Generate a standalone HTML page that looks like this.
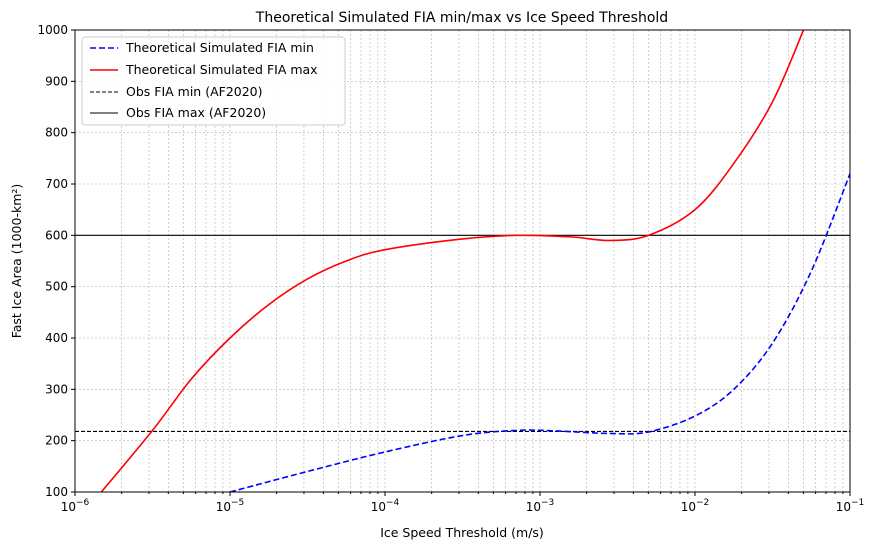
<!DOCTYPE html>
<html><head><meta charset="utf-8"><style>
body{margin:0;background:#fff;font-family:"Liberation Sans","DejaVu Sans",sans-serif}
</style></head><body>
<svg id="chart" width="876" height="550" xmlns="http://www.w3.org/2000/svg" font-family="DejaVu Sans, Liberation Sans, sans-serif">
<text x="462" y="22" font-size="14" text-anchor="middle">Theoretical Simulated FIA min/max vs Ice Speed Threshold</text>
<g id="grid"></g>
<g id="series"></g>
<rect x="75" y="30" width="775" height="462" fill="none" stroke="#000" stroke-width="1"/>
<g id="axes" font-size="12"></g>
<text x="462" y="537" font-size="12.5" text-anchor="middle">Ice Speed Threshold (m/s)</text>
<text transform="translate(21,261) rotate(-90)" font-size="12.5" text-anchor="middle">Fast Ice Area (1000-km²)</text>
<g>
<rect x="82" y="37" width="263" height="88" fill="#fff" fill-opacity="0.85" stroke="#ccc" rx="3"/>
<line x1="90" y1="48" x2="118" y2="48" stroke="#00f" stroke-width="1.6" stroke-dasharray="6,3"/>
<text x="126" y="52" font-size="12.5">Theoretical Simulated FIA min</text>
<line x1="90" y1="70" x2="118" y2="70" stroke="red" stroke-width="1.6"/>
<text x="126" y="74" font-size="12.5">Theoretical Simulated FIA max</text>
<line x1="90" y1="92" x2="118" y2="92" stroke="#000" stroke-width="1.1" stroke-dasharray="4,2"/>
<text x="126" y="96" font-size="12.5">Obs FIA min (AF2020)</text>
<line x1="90" y1="113" x2="118" y2="113" stroke="#000" stroke-width="1.1"/>
<text x="126" y="117" font-size="12.5">Obs FIA max (AF2020)</text>
</g>
</svg>
<script>
const maxLogX=[-5.83,-5.5,-5.25,-5,-4.75,-4.5,-4.25,-4,-3.5,-3.15,-2.8,-2.55,-2.3,-2,-1.75,-1.5,-1.3];
const maxVals=[100,220,320,400,465,515,550,572,593,600,597,590,600,650,740,860,1000];
const minLogX=[-5,-4.5,-4,-3.5,-3.15,-2.9,-2.55,-2.3,-2,-1.75,-1.5,-1.25,-1];
const minVals=[100,140,178,210,220,219,214,217,248,300,390,530,720];
const obsMin=218, obsMax=600;
const yTicks=[100,200,300,400,500,600,700,800,900,1000];
const xDecades=[-6,-5,-4,-3,-2,-1];
const NS="http://www.w3.org/2000/svg";
const X=l=>75+(l+6)*155, Y=v=>492-(v-100)*462/900;
function mk(p,t,a){const e=document.createElementNS(NS,t);for(const k in a)e.setAttribute(k,a[k]);p.appendChild(e);return e;}
const grid=document.getElementById('grid'),axes=document.getElementById('axes'),ser=document.getElementById('series');
yTicks.forEach(v=>{
 const g=mk(grid,'line',{x1:75,x2:850,y1:Y(v),y2:Y(v),stroke:'#b0b0b0','stroke-width':0.6,'stroke-dasharray':'2,2'});
 
 mk(axes,'line',{x1:71,x2:75,y1:Y(v),y2:Y(v),stroke:'#000'});
 const t=mk(axes,'text',{x:68,y:Y(v)+4,'text-anchor':'end'});t.textContent=v;
 
});
xDecades.forEach(d=>{
 for(let m=1;m<10;m++){const l=d+Math.log10(m);if(l>-1+1e-9&&m>1)continue;
  const g=mk(grid,'line',{x1:X(l),x2:X(l),y1:30,y2:492,stroke:'#b0b0b0','stroke-width':0.6,'stroke-dasharray':'2,2'});
  
  mk(axes,'line',{x1:X(l),x2:X(l),y1:492,y2:m==1?496:494,stroke:'#000'});}
 const t=mk(axes,'text',{x:X(d),y:511,'text-anchor':'middle'});
 t.innerHTML='10<tspan dy="-6" font-size="9">'+(d==-1?'−1':'−'+(-d))+'</tspan>';
 
});
function smooth(xs,ys){let d='';const pts=xs.map((x,i)=>[X(x),Y(ys[i])]);
 d='M'+pts[0];for(let i=0;i<pts.length-1;i++){const p0=pts[i-1]||pts[i],p1=pts[i],p2=pts[i+1],p3=pts[i+2]||p2;
 const c1=[p1[0]+(p2[0]-p0[0])/6,p1[1]+(p2[1]-p0[1])/6],c2=[p2[0]-(p3[0]-p1[0])/6,p2[1]-(p3[1]-p1[1])/6];
 d+='C'+c1+' '+c2+' '+p2;}return d;}
const cp=mk(document.getElementById('chart'),'clipPath',{id:'clip'});mk(cp,'rect',{x:75,y:30,width:775,height:462});
ser.setAttribute('clip-path','url(#clip)');
let e=mk(ser,'line',{x1:75,x2:850,y1:Y(obsMin),y2:Y(obsMin),stroke:'#000','stroke-width':1.1,'stroke-dasharray':'4,2'});

e=mk(ser,'line',{x1:75,x2:850,y1:Y(obsMax),y2:Y(obsMax),stroke:'#000','stroke-width':1.1});

e=mk(ser,'path',{d:smooth(minLogX,minVals),fill:'none',stroke:'#00f','stroke-width':1.6,'stroke-dasharray':'6,3'});

e=mk(ser,'path',{d:smooth(maxLogX,maxVals),fill:'none',stroke:'red','stroke-width':1.6});

</script>
</body></html>
